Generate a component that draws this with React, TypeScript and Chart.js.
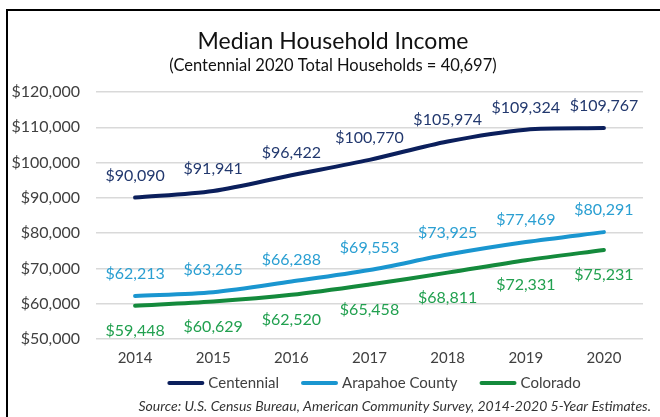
import React, { useEffect, useRef } from 'react';
import { Chart, registerables } from 'chart.js';

Chart.register(...registerables);

const categories = ['2014', '2015', '2016', '2017', '2018', '2019', '2020'];
const centennial = [90090, 91941, 96422, 100770, 105974, 109324, 109767];
const arapahoe = [62213, 63265, 66288, 69553, 73925, 77469, 80291];
const colorado = [59448, 60629, 62520, 65458, 68811, 72331, 75231];
const seriesNames = ['Centennial', 'Arapahoe County', 'Colorado'];
const titleText = 'Median Household Income';
const subtitleText = '(Centennial 2020 Total Households = 40,697)';
const sourceText = 'Source: U.S. Census Bureau, American Community Survey, 2014-2020 5-Year Estimates.';

const FONT = 'Lato, "Open Sans", sans-serif';
const lineColors = ['#0B1F5C', '#1A96D0', '#148A3C'];
const labelColors = ['#22386E', '#2A9FD2', '#21A04F'];
const labelOffsets = [-22, -22, 25];

const fmt = (v: number) => '$' + v.toLocaleString('en-US');

const textPlugin = {
  id: 'texts',
  afterDraw(chart: any) {
    const ctx = chart.ctx;
    ctx.save();
    ctx.textAlign = 'center';
    ctx.textBaseline = 'middle';
    // data labels
    chart.data.datasets.forEach((ds: any, di: number) => {
      const meta = chart.getDatasetMeta(di);
      ctx.fillStyle = labelColors[di];
      ctx.font = `16px ${FONT}`;
      meta.data.forEach((pt: any, i: number) => {
        ctx.fillText(fmt(ds.data[i]), pt.x, pt.y + labelOffsets[di]);
      });
    });
    // title
    ctx.fillStyle = '#111';
    ctx.font = `23px ${FONT}`;
    ctx.fillText(titleText, 333, 42);
    ctx.font = `16.5px ${FONT}`;
    ctx.fillText(subtitleText, 333, 66);
    // legend
    ctx.font = `15px ${FONT}`;
    const sample = 37;
    const gap = 4;
    const itemGap = 22;
    const widths = chart.data.datasets.map((ds: any) => ctx.measureText(ds.label).width);
    const total =
      widths.reduce((a: number, w: number) => a + sample + gap + w, 0) + itemGap * (widths.length - 1);
    let x = 374 - total / 2;
    const ly = 383;
    ctx.textAlign = 'left';
    chart.data.datasets.forEach((ds: any, i: number) => {
      ctx.strokeStyle = lineColors[i];
      ctx.lineWidth = 4;
      ctx.lineCap = 'round';
      ctx.beginPath();
      ctx.moveTo(x + 2, ly);
      ctx.lineTo(x + sample - 2, ly);
      ctx.stroke();
      ctx.fillStyle = '#404040';
      ctx.fillText(ds.label, x + sample + gap, ly);
      x += sample + gap + widths[i] + itemGap;
    });
    // source
    ctx.textAlign = 'right';
    ctx.font = `italic 14px ${FONT}`;
    ctx.fillStyle = '#333';
    ctx.fillText(sourceText, 651, 406);
    ctx.restore();
  },
};

export default function App() {
  const ref = useRef<HTMLCanvasElement | null>(null);
  useEffect(() => {
    if (!ref.current) return;
    const sets = [centennial, arapahoe, colorado];
    const chart = new Chart(ref.current, {
      type: 'line',
      data: {
        labels: categories,
        datasets: sets.map((d, i) => ({
          label: seriesNames[i],
          data: d,
          borderColor: lineColors[i],
          backgroundColor: lineColors[i],
          borderWidth: 4,
          pointRadius: 0,
          tension: 0.3,
          borderCapStyle: 'round' as const,
        })),
      },
      options: {
        animation: false,
        responsive: false,
        layout: { padding: { top: 92, left: 8, right: 17, bottom: 48 } },
        plugins: {
          title: { display: false },
          tooltip: { enabled: false },
          legend: { display: false },
        },
        scales: {
          x: {
            offset: true,
            grid: { display: false },
            border: { display: false },
            ticks: { color: '#404040', font: { family: FONT, size: 15 }, padding: 2 },
          },
          y: {
            min: 50000,
            max: 120000,
            afterFit: (s: any) => {
              s.width = 88;
            },
            grid: { color: '#D9D9D9', lineWidth: 1.5, drawTicks: false },
            border: { display: false },
            ticks: {
              stepSize: 10000,
              color: '#404040',
              font: { family: FONT, size: 16 },
              padding: 16,
              callback: (v: any) => fmt(Number(v)),
            },
          },
        },
      },
      plugins: [textPlugin],
    });
    return () => chart.destroy();
  }, []);
  return (
    <div style={{ position: 'fixed', left: 0, top: 0, width: 660, height: 417, background: '#fff' }}>
      <canvas ref={ref} width={660} height={417} style={{ position: 'absolute', left: 0, top: 0 }} />
      <div
        style={{
          position: 'absolute',
          left: 6,
          top: 9,
          width: 660,
          height: 420,
          borderTop: '2px solid #000',
          borderLeft: '2px solid #000',
          pointerEvents: 'none',
        }}
      />
    </div>
  );
}
